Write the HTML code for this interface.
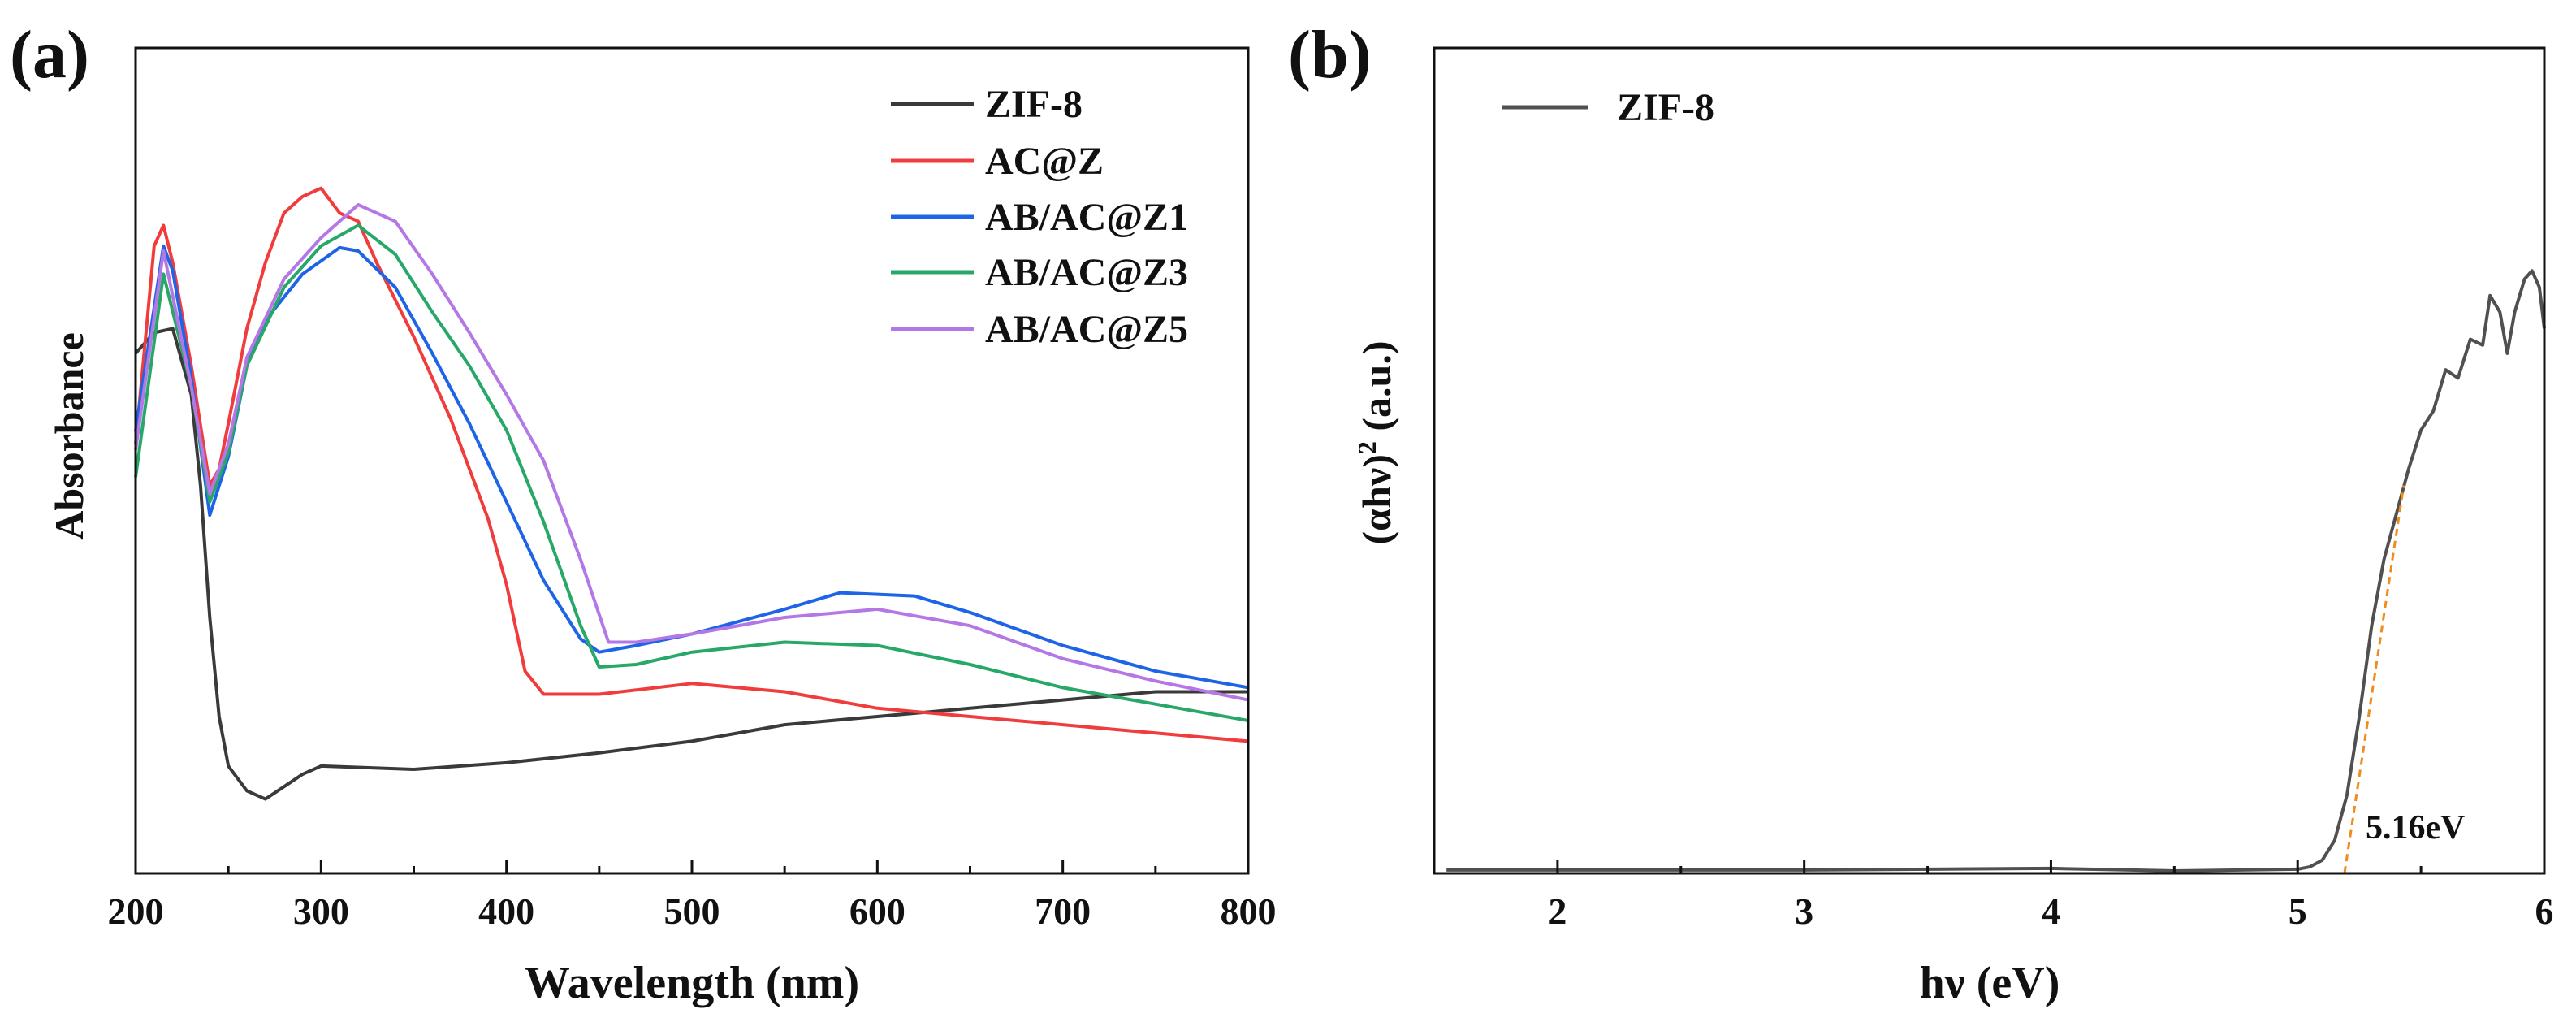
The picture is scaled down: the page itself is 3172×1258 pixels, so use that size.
<!DOCTYPE html>
<html><head><meta charset="utf-8"><style>
body{margin:0;background:#fff}
svg{display:block;font-family:"Liberation Serif",serif;font-weight:bold}
</style></head><body>
<svg id="fig" width="3172" height="1258" viewBox="0 0 3172 1258"></svg>
<script>
// Panel (a) data: wavelength (nm) and normalized absorbance
const zifX=[200,210,220,230,235,240,245,250,260,270,280,290,300,350,400,450,500,550,600,650,700,750,800];
const zifY=[.63,.655,.66,.58,.47,.31,.19,.13,.10,.09,.105,.12,.13,.126,.134,.146,.16,.18,.19,.20,.21,.22,.22];
const aczX=[200,210,215,220,230,240,245,250,260,270,280,290,300,310,320,330,350,370,390,400,410,420,450,500,550,600,650,700,750,800];
const aczY=[.52,.76,.785,.74,.615,.47,.49,.545,.66,.74,.80,.82,.83,.80,.79,.74,.65,.55,.43,.35,.245,.217,.217,.23,.22,.20,.19,.18,.17,.16];
const z1X=[200,215,220,230,240,250,260,270,290,310,320,340,360,380,400,420,440,450,470,500,550,580,620,650,700,750,800];
const z1Y=[.536,.76,.73,.60,.434,.505,.615,.67,.726,.758,.754,.71,.63,.545,.45,.355,.284,.268,.276,.29,.32,.34,.336,.316,.276,.245,.225];
const z3X=[200,215,230,240,250,260,280,300,320,340,360,380,400,420,440,450,470,500,550,600,650,700,750,800];
const z3Y=[.48,.726,.59,.45,.51,.615,.71,.76,.785,.75,.68,.615,.537,.426,.30,.25,.253,.268,.28,.276,.253,.225,.205,.185];
const z5X=[200,215,230,240,250,260,280,300,320,330,340,360,380,400,420,440,455,470,500,550,600,650,700,750,800];
const z5Y=[.513,.754,.59,.46,.52,.625,.72,.77,.81,.80,.79,.726,.655,.58,.50,.38,.28,.28,.29,.31,.32,.30,.26,.233,.21];
const aTicks=[200,300,400,500,600,700,800];
const legendA=["ZIF-8","AC@Z","AB/AC@Z1","AB/AC@Z3","AB/AC@Z5"];
// Panel (b) data: photon energy (eV) and (αhν)^2 normalized
const bX=[1.55,2,3,4,4.5,5.0,5.05,5.1,5.15,5.2,5.25,5.3,5.35,5.4,5.45,5.5,5.55,5.6,5.65,5.7,5.75,5.78,5.82,5.85,5.88,5.92,5.95,5.98,6.0];
const bY=[.004,.004,.004,.006,.003,.005,.008,.016,.04,.095,.19,.30,.38,.435,.49,.537,.56,.61,.60,.647,.64,.70,.68,.63,.68,.72,.73,.71,.66];
const fitX=[5.19,5.43];
const fitY=[0,.47];
const bTicks=[2,3,4,5,6];
const bandGap="5.16eV";

const NS="http://www.w3.org/2000/svg";
const svg=document.getElementById('fig');
function el(t,a,p){const e=document.createElementNS(NS,t);for(const k in a)e.setAttribute(k,a[k]);(p||svg).appendChild(e);return e;}
const pTop=59,pBot=1075;
const yS=v=>pBot-v*(pBot-pTop);
// panel a
const axL=167,axR=1537;
const xA=v=>axL+(v-200)/600*(axR-axL);
const colors=["#3a3a3a","#f03c3c","#1e64e6","#28a868","#b478e6"];
const sx=[zifX,aczX,z1X,z3X,z5X],sy=[zifY,aczY,z1Y,z3Y,z5Y];
const names=["series-zif8","series-acz","series-ab-acz1","series-ab-acz3","series-ab-acz5"];
for(let s=0;s<5;s++){
 const d=sx[s].map((x,i)=>(i?'L':'M')+xA(x).toFixed(1)+','+yS(sy[s][i]).toFixed(1)).join('');
 const p=el('path',{d,fill:'none',stroke:colors[s],'stroke-width':4,'stroke-linejoin':'round'});
 
 
}
let f=el('rect',{x:axL,y:pTop,width:axR-axL,height:pBot-pTop,fill:'none',stroke:'#111','stroke-width':3});


for(let v=200;v<=800;v+=50){const x=xA(v);el('line',{x1:x,x2:x,y1:pBot,y2:pBot-(v%100?9:16),stroke:'#111','stroke-width':3});}
aTicks.forEach(v=>{const t=el('text',{x:xA(v),y:1137,'font-size':46,'text-anchor':'middle',fill:'#111'});t.textContent=v;
 
 });
legendA.forEach((n,i)=>{const y=[128,198,267,335,405][i];
 el('line',{x1:1097,x2:1199,y1:y,y2:y,stroke:colors[i],'stroke-width':5});
 const t=el('text',{x:1213,y:y+16,'font-size':48,fill:'#111'});t.textContent=n;
 
 });
let t=el('text',{x:852,y:1228,'font-size':56,'text-anchor':'middle',fill:'#111'});t.textContent='Wavelength (nm)';

t=el('text',{x:0,y:0,'font-size':50,'text-anchor':'middle',fill:'#111',transform:'translate(102,537) rotate(-90)'});t.textContent='Absorbance';

t=el('text',{x:12,y:95,'font-size':84,fill:'#111'});t.textContent='(a)';

// panel b
const bL=1766,bR=3133;
const xB=v=>bL+(v-1.5)/4.5*(bR-bL);
let p=el('path',{d:bX.map((x,i)=>(i?'L':'M')+xB(x).toFixed(1)+','+yS(bY[i]).toFixed(1)).join(''),fill:'none',stroke:'#505050','stroke-width':4,'stroke-linejoin':'round'});

p=el('line',{x1:xB(fitX[0]),y1:yS(fitY[0]),x2:xB(fitX[1]),y2:yS(fitY[1]),stroke:'#f08c1e','stroke-width':3,'stroke-dasharray':'9,6'});

f=el('rect',{x:bL,y:pTop,width:bR-bL,height:pBot-pTop,fill:'none',stroke:'#111','stroke-width':3});

for(let v=2;v<=6;v+=0.5){const x=xB(v);el('line',{x1:x,x2:x,y1:pBot,y2:pBot-(v%1?9:16),stroke:'#111','stroke-width':3});}
bTicks.forEach(v=>{const t=el('text',{x:xB(v),y:1137,'font-size':46,'text-anchor':'middle',fill:'#111'});t.textContent=v;
 
 });
el('line',{x1:1849,x2:1955,y1:132,y2:132,stroke:'#505050','stroke-width':5});
t=el('text',{x:1991,y:148,'font-size':48,fill:'#111'});t.textContent='ZIF-8';

t=el('text',{x:2913,y:1032,'font-size':42,fill:'#111'});t.textContent=bandGap;

t=el('text',{x:2450,y:1228,'font-size':56,'text-anchor':'middle',fill:'#111'});t.textContent='hν (eV)';

t=el('text',{x:0,y:0,'font-size':50,'text-anchor':'middle',fill:'#111',transform:'translate(1712,545) rotate(-90)'});t.innerHTML='(αhν)<tspan font-size="32" dy="-18">2</tspan><tspan dy="18"> (a.u.)</tspan>';

t=el('text',{x:1586,y:95,'font-size':84,fill:'#111'});t.textContent='(b)';

</script>
</body></html>
